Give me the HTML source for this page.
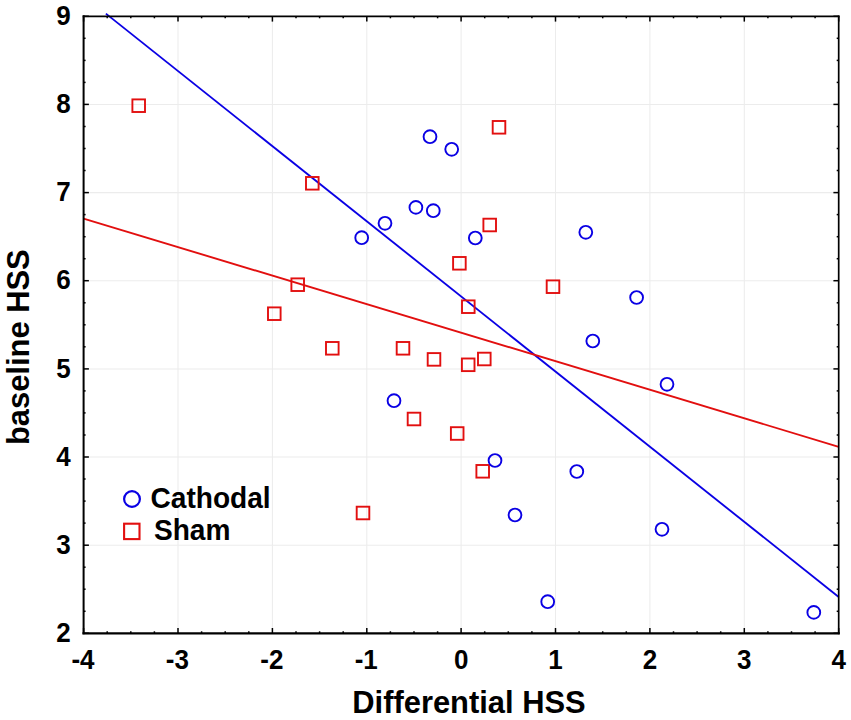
<!DOCTYPE html>
<html lang="en"><head><meta charset="utf-8"><title>Scatter plot</title>
<style>
html,body{margin:0;padding:0;background:#fff;}
body{width:851px;height:720px;overflow:hidden;}
svg{display:block;}
text{font-family:"Liberation Sans",Arial,Helvetica,sans-serif;font-weight:bold;fill:#000;}
.tk{font-size:26px;}
.ttl{font-size:30.9px;}
.lg{font-size:28.1px;}
</style></head><body>
<svg width="851" height="720" viewBox="0 0 851 720">
<rect width="851" height="720" fill="#fff"/>
<g stroke="#ececec" stroke-width="1.05" fill="none">
<line x1="178.0" y1="16.3" x2="178.0" y2="633.3"/>
<line x1="272.4" y1="16.3" x2="272.4" y2="633.3"/>
<line x1="366.8" y1="16.3" x2="366.8" y2="633.3"/>
<line x1="461.1" y1="16.3" x2="461.1" y2="633.3"/>
<line x1="555.5" y1="16.3" x2="555.5" y2="633.3"/>
<line x1="649.9" y1="16.3" x2="649.9" y2="633.3"/>
<line x1="744.3" y1="16.3" x2="744.3" y2="633.3"/>
<line x1="83.6" y1="545.2" x2="838.7" y2="545.2"/>
<line x1="83.6" y1="457.0" x2="838.7" y2="457.0"/>
<line x1="83.6" y1="368.9" x2="838.7" y2="368.9"/>
<line x1="83.6" y1="280.7" x2="838.7" y2="280.7"/>
<line x1="83.6" y1="192.6" x2="838.7" y2="192.6"/>
<line x1="83.6" y1="104.4" x2="838.7" y2="104.4"/>
</g>
<line x1="105.9" y1="13.6" x2="838.7" y2="597" stroke="#0a00e4" stroke-width="1.85"/>
<line x1="83.6" y1="218.6" x2="838.7" y2="446.8" stroke="#e20f0f" stroke-width="1.9"/>
<g fill="none" stroke="#e20f0f" stroke-width="1.9">
<rect x="132.4" y="99.4" width="12.6" height="12.6"/>
<rect x="306.0" y="177.0" width="12.6" height="12.6"/>
<rect x="291.4" y="278.4" width="12.6" height="12.6"/>
<rect x="268.0" y="307.4" width="12.6" height="12.6"/>
<rect x="326.0" y="342.0" width="12.6" height="12.6"/>
<rect x="492.7" y="121.0" width="12.6" height="12.6"/>
<rect x="483.4" y="218.7" width="12.6" height="12.6"/>
<rect x="453.1" y="257.0" width="12.6" height="12.6"/>
<rect x="546.7" y="280.4" width="12.6" height="12.6"/>
<rect x="462.0" y="300.4" width="12.6" height="12.6"/>
<rect x="396.7" y="342.0" width="12.6" height="12.6"/>
<rect x="427.7" y="353.1" width="12.6" height="12.6"/>
<rect x="461.9" y="358.5" width="12.6" height="12.6"/>
<rect x="478.0" y="352.7" width="12.6" height="12.6"/>
<rect x="407.7" y="412.7" width="12.6" height="12.6"/>
<rect x="450.9" y="427.2" width="12.6" height="12.6"/>
<rect x="476.4" y="465.0" width="12.6" height="12.6"/>
<rect x="356.7" y="506.7" width="12.6" height="12.6"/>
<rect x="124.1" y="523.7" width="15.4" height="15.4" stroke-width="2.1"/>
</g>
<g fill="none" stroke="#0a00e4" stroke-width="1.9">
<circle cx="430.0" cy="136.7" r="6.4"/>
<circle cx="451.7" cy="149.3" r="6.4"/>
<circle cx="415.9" cy="207.4" r="6.4"/>
<circle cx="433.3" cy="210.7" r="6.4"/>
<circle cx="385.0" cy="223.3" r="6.4"/>
<circle cx="361.7" cy="237.7" r="6.4"/>
<circle cx="475.3" cy="238.0" r="6.4"/>
<circle cx="585.8" cy="232.3" r="6.4"/>
<circle cx="636.6" cy="297.5" r="6.4"/>
<circle cx="592.8" cy="341.0" r="6.4"/>
<circle cx="667.0" cy="384.3" r="6.4"/>
<circle cx="394.0" cy="400.7" r="6.4"/>
<circle cx="495.0" cy="460.5" r="6.4"/>
<circle cx="576.8" cy="471.5" r="6.4"/>
<circle cx="515.0" cy="515.0" r="6.4"/>
<circle cx="547.7" cy="601.7" r="6.4"/>
<circle cx="662.0" cy="529.3" r="6.4"/>
<circle cx="813.8" cy="612.4" r="6.4"/>
<circle cx="132" cy="499" r="7.9" stroke-width="2.2"/>
</g>
<g stroke="#000" stroke-width="1.5" fill="none">
<line x1="83.6" y1="633.3" x2="83.6" y2="628.0"/>
<line x1="83.6" y1="16.3" x2="83.6" y2="21.6"/>
<line x1="107.2" y1="633.3" x2="107.2" y2="631.3"/>
<line x1="107.2" y1="16.3" x2="107.2" y2="18.3"/>
<line x1="130.8" y1="633.3" x2="130.8" y2="631.3"/>
<line x1="130.8" y1="16.3" x2="130.8" y2="18.3"/>
<line x1="154.4" y1="633.3" x2="154.4" y2="631.3"/>
<line x1="154.4" y1="16.3" x2="154.4" y2="18.3"/>
<line x1="178.0" y1="633.3" x2="178.0" y2="628.0"/>
<line x1="178.0" y1="16.3" x2="178.0" y2="21.6"/>
<line x1="201.6" y1="633.3" x2="201.6" y2="631.3"/>
<line x1="201.6" y1="16.3" x2="201.6" y2="18.3"/>
<line x1="225.2" y1="633.3" x2="225.2" y2="631.3"/>
<line x1="225.2" y1="16.3" x2="225.2" y2="18.3"/>
<line x1="248.8" y1="633.3" x2="248.8" y2="631.3"/>
<line x1="248.8" y1="16.3" x2="248.8" y2="18.3"/>
<line x1="272.4" y1="633.3" x2="272.4" y2="628.0"/>
<line x1="272.4" y1="16.3" x2="272.4" y2="21.6"/>
<line x1="296.0" y1="633.3" x2="296.0" y2="631.3"/>
<line x1="296.0" y1="16.3" x2="296.0" y2="18.3"/>
<line x1="319.6" y1="633.3" x2="319.6" y2="631.3"/>
<line x1="319.6" y1="16.3" x2="319.6" y2="18.3"/>
<line x1="343.2" y1="633.3" x2="343.2" y2="631.3"/>
<line x1="343.2" y1="16.3" x2="343.2" y2="18.3"/>
<line x1="366.8" y1="633.3" x2="366.8" y2="628.0"/>
<line x1="366.8" y1="16.3" x2="366.8" y2="21.6"/>
<line x1="390.4" y1="633.3" x2="390.4" y2="631.3"/>
<line x1="390.4" y1="16.3" x2="390.4" y2="18.3"/>
<line x1="414.0" y1="633.3" x2="414.0" y2="631.3"/>
<line x1="414.0" y1="16.3" x2="414.0" y2="18.3"/>
<line x1="437.6" y1="633.3" x2="437.6" y2="631.3"/>
<line x1="437.6" y1="16.3" x2="437.6" y2="18.3"/>
<line x1="461.1" y1="633.3" x2="461.1" y2="628.0"/>
<line x1="461.1" y1="16.3" x2="461.1" y2="21.6"/>
<line x1="484.7" y1="633.3" x2="484.7" y2="631.3"/>
<line x1="484.7" y1="16.3" x2="484.7" y2="18.3"/>
<line x1="508.3" y1="633.3" x2="508.3" y2="631.3"/>
<line x1="508.3" y1="16.3" x2="508.3" y2="18.3"/>
<line x1="531.9" y1="633.3" x2="531.9" y2="631.3"/>
<line x1="531.9" y1="16.3" x2="531.9" y2="18.3"/>
<line x1="555.5" y1="633.3" x2="555.5" y2="628.0"/>
<line x1="555.5" y1="16.3" x2="555.5" y2="21.6"/>
<line x1="579.1" y1="633.3" x2="579.1" y2="631.3"/>
<line x1="579.1" y1="16.3" x2="579.1" y2="18.3"/>
<line x1="602.7" y1="633.3" x2="602.7" y2="631.3"/>
<line x1="602.7" y1="16.3" x2="602.7" y2="18.3"/>
<line x1="626.3" y1="633.3" x2="626.3" y2="631.3"/>
<line x1="626.3" y1="16.3" x2="626.3" y2="18.3"/>
<line x1="649.9" y1="633.3" x2="649.9" y2="628.0"/>
<line x1="649.9" y1="16.3" x2="649.9" y2="21.6"/>
<line x1="673.5" y1="633.3" x2="673.5" y2="631.3"/>
<line x1="673.5" y1="16.3" x2="673.5" y2="18.3"/>
<line x1="697.1" y1="633.3" x2="697.1" y2="631.3"/>
<line x1="697.1" y1="16.3" x2="697.1" y2="18.3"/>
<line x1="720.7" y1="633.3" x2="720.7" y2="631.3"/>
<line x1="720.7" y1="16.3" x2="720.7" y2="18.3"/>
<line x1="744.3" y1="633.3" x2="744.3" y2="628.0"/>
<line x1="744.3" y1="16.3" x2="744.3" y2="21.6"/>
<line x1="767.9" y1="633.3" x2="767.9" y2="631.3"/>
<line x1="767.9" y1="16.3" x2="767.9" y2="18.3"/>
<line x1="791.5" y1="633.3" x2="791.5" y2="631.3"/>
<line x1="791.5" y1="16.3" x2="791.5" y2="18.3"/>
<line x1="815.1" y1="633.3" x2="815.1" y2="631.3"/>
<line x1="815.1" y1="16.3" x2="815.1" y2="18.3"/>
<line x1="838.7" y1="633.3" x2="838.7" y2="628.0"/>
<line x1="838.7" y1="16.3" x2="838.7" y2="21.6"/>
<line x1="83.6" y1="633.3" x2="88.9" y2="633.3"/>
<line x1="838.7" y1="633.3" x2="833.4" y2="633.3"/>
<line x1="83.6" y1="611.3" x2="85.6" y2="611.3"/>
<line x1="838.7" y1="611.3" x2="836.7" y2="611.3"/>
<line x1="83.6" y1="589.2" x2="85.6" y2="589.2"/>
<line x1="838.7" y1="589.2" x2="836.7" y2="589.2"/>
<line x1="83.6" y1="567.2" x2="85.6" y2="567.2"/>
<line x1="838.7" y1="567.2" x2="836.7" y2="567.2"/>
<line x1="83.6" y1="545.2" x2="88.9" y2="545.2"/>
<line x1="838.7" y1="545.2" x2="833.4" y2="545.2"/>
<line x1="83.6" y1="523.1" x2="85.6" y2="523.1"/>
<line x1="838.7" y1="523.1" x2="836.7" y2="523.1"/>
<line x1="83.6" y1="501.1" x2="85.6" y2="501.1"/>
<line x1="838.7" y1="501.1" x2="836.7" y2="501.1"/>
<line x1="83.6" y1="479.0" x2="85.6" y2="479.0"/>
<line x1="838.7" y1="479.0" x2="836.7" y2="479.0"/>
<line x1="83.6" y1="457.0" x2="88.9" y2="457.0"/>
<line x1="838.7" y1="457.0" x2="833.4" y2="457.0"/>
<line x1="83.6" y1="435.0" x2="85.6" y2="435.0"/>
<line x1="838.7" y1="435.0" x2="836.7" y2="435.0"/>
<line x1="83.6" y1="412.9" x2="85.6" y2="412.9"/>
<line x1="838.7" y1="412.9" x2="836.7" y2="412.9"/>
<line x1="83.6" y1="390.9" x2="85.6" y2="390.9"/>
<line x1="838.7" y1="390.9" x2="836.7" y2="390.9"/>
<line x1="83.6" y1="368.9" x2="88.9" y2="368.9"/>
<line x1="838.7" y1="368.9" x2="833.4" y2="368.9"/>
<line x1="83.6" y1="346.8" x2="85.6" y2="346.8"/>
<line x1="838.7" y1="346.8" x2="836.7" y2="346.8"/>
<line x1="83.6" y1="324.8" x2="85.6" y2="324.8"/>
<line x1="838.7" y1="324.8" x2="836.7" y2="324.8"/>
<line x1="83.6" y1="302.8" x2="85.6" y2="302.8"/>
<line x1="838.7" y1="302.8" x2="836.7" y2="302.8"/>
<line x1="83.6" y1="280.7" x2="88.9" y2="280.7"/>
<line x1="838.7" y1="280.7" x2="833.4" y2="280.7"/>
<line x1="83.6" y1="258.7" x2="85.6" y2="258.7"/>
<line x1="838.7" y1="258.7" x2="836.7" y2="258.7"/>
<line x1="83.6" y1="236.7" x2="85.6" y2="236.7"/>
<line x1="838.7" y1="236.7" x2="836.7" y2="236.7"/>
<line x1="83.6" y1="214.6" x2="85.6" y2="214.6"/>
<line x1="838.7" y1="214.6" x2="836.7" y2="214.6"/>
<line x1="83.6" y1="192.6" x2="88.9" y2="192.6"/>
<line x1="838.7" y1="192.6" x2="833.4" y2="192.6"/>
<line x1="83.6" y1="170.5" x2="85.6" y2="170.5"/>
<line x1="838.7" y1="170.5" x2="836.7" y2="170.5"/>
<line x1="83.6" y1="148.5" x2="85.6" y2="148.5"/>
<line x1="838.7" y1="148.5" x2="836.7" y2="148.5"/>
<line x1="83.6" y1="126.5" x2="85.6" y2="126.5"/>
<line x1="838.7" y1="126.5" x2="836.7" y2="126.5"/>
<line x1="83.6" y1="104.4" x2="88.9" y2="104.4"/>
<line x1="838.7" y1="104.4" x2="833.4" y2="104.4"/>
<line x1="83.6" y1="82.4" x2="85.6" y2="82.4"/>
<line x1="838.7" y1="82.4" x2="836.7" y2="82.4"/>
<line x1="83.6" y1="60.4" x2="85.6" y2="60.4"/>
<line x1="838.7" y1="60.4" x2="836.7" y2="60.4"/>
<line x1="83.6" y1="38.3" x2="85.6" y2="38.3"/>
<line x1="838.7" y1="38.3" x2="836.7" y2="38.3"/>
<line x1="83.6" y1="16.3" x2="88.9" y2="16.3"/>
<line x1="838.7" y1="16.3" x2="833.4" y2="16.3"/>
</g>
<g stroke="#000" stroke-linecap="square" fill="none">
<line x1="83.6" y1="16.3" x2="838.7" y2="16.3" stroke-width="1.7"/>
<line x1="838.7" y1="16.3" x2="838.7" y2="633.3" stroke-width="1.7"/>
<line x1="83.6" y1="16.3" x2="83.6" y2="633.3" stroke-width="2.0"/>
<line x1="83.6" y1="633.3" x2="838.7" y2="633.3" stroke-width="2.3"/>
</g>
<text class="tk" transform="translate(83.0,669.1) scale(1,1.03)" text-anchor="middle">-4</text>
<text class="tk" transform="translate(177.4,669.1) scale(1,1.03)" text-anchor="middle">-3</text>
<text class="tk" transform="translate(271.8,669.1) scale(1,1.03)" text-anchor="middle">-2</text>
<text class="tk" transform="translate(366.2,669.1) scale(1,1.03)" text-anchor="middle">-1</text>
<text class="tk" transform="translate(461.1,669.1) scale(1,1.03)" text-anchor="middle">0</text>
<text class="tk" transform="translate(555.5,669.1) scale(1,1.03)" text-anchor="middle">1</text>
<text class="tk" transform="translate(649.9,669.1) scale(1,1.03)" text-anchor="middle">2</text>
<text class="tk" transform="translate(744.3,669.1) scale(1,1.03)" text-anchor="middle">3</text>
<text class="tk" transform="translate(838.7,669.1) scale(1,1.03)" text-anchor="middle">4</text>
<text class="tk" transform="translate(70.6,641.9) scale(1,1.03)" text-anchor="end">2</text>
<text class="tk" transform="translate(70.6,553.8) scale(1,1.03)" text-anchor="end">3</text>
<text class="tk" transform="translate(70.6,465.6) scale(1,1.03)" text-anchor="end">4</text>
<text class="tk" transform="translate(70.6,377.5) scale(1,1.03)" text-anchor="end">5</text>
<text class="tk" transform="translate(70.6,289.3) scale(1,1.03)" text-anchor="end">6</text>
<text class="tk" transform="translate(70.6,201.2) scale(1,1.03)" text-anchor="end">7</text>
<text class="tk" transform="translate(70.6,113.0) scale(1,1.03)" text-anchor="end">8</text>
<text class="tk" transform="translate(70.6,24.9) scale(1,1.03)" text-anchor="end">9</text>
<text class="ttl" transform="translate(469,712.5) scale(1,1.03)" text-anchor="middle">Differential HSS</text>
<text class="ttl" transform="translate(29,347.2) rotate(-90) scale(1,1.03)" text-anchor="middle">baseline HSS</text>
<text class="lg" transform="translate(150.5,508.2) scale(1,1.04)">Cathodal</text>
<text class="lg" transform="translate(153.9,540.2) scale(1,1.04)">Sham</text>
</svg></body></html>
